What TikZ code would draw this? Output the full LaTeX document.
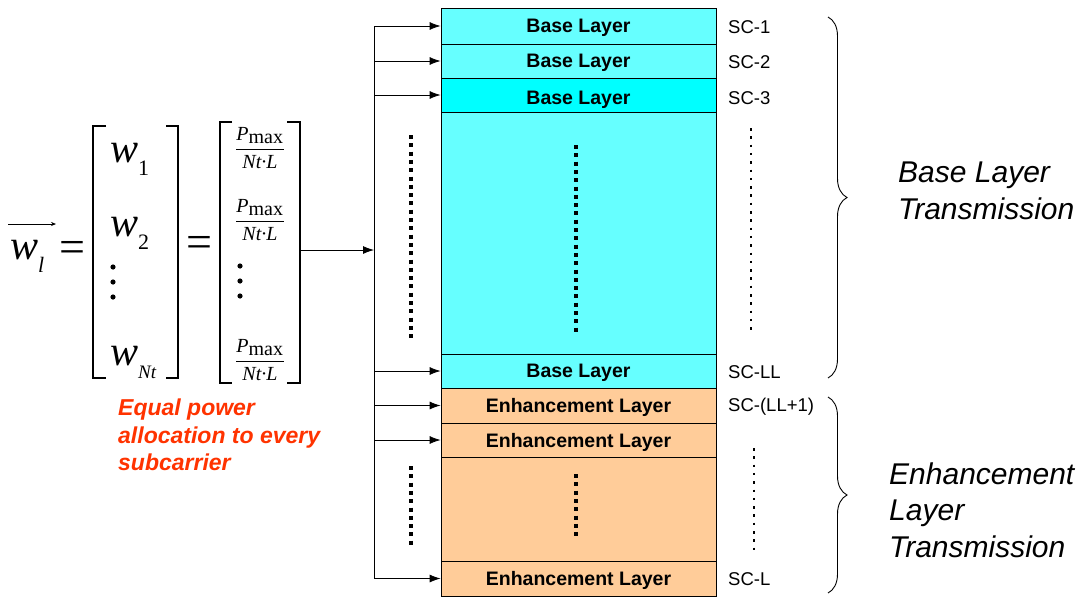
\documentclass[tikz,border=0pt]{standalone}
\usepackage{fontspec}
\usepackage{amsmath}
\setmainfont{Liberation Sans}
\newfontfamily\timesfont{Liberation Serif}
\usetikzlibrary{arrows.meta,decorations.pathreplacing}

\definecolor{basecyan}{RGB}{102,255,255}
\definecolor{brightcyan}{RGB}{0,255,255}
\definecolor{enhpeach}{RGB}{255,204,153}
\definecolor{notered}{RGB}{255,51,0}

% one power entry P_max / (Nt.L)
\newcommand{\powfrac}{$\dfrac{\mbox{\itshape P}_{\mbox{max}}}{\mbox{\itshape Nt\textperiodcentered L}}$}
% a weight w with its index set low
\newcommand{\wsub}[2][]{w\raisebox{-13pt}{\fontsize{22}{22}\selectfont#1#2}}

\begin{document}
\begin{tikzpicture}[x=1pt,y=-1pt]
    % Styles
    \tikzset{
      layer/.style={draw,line width=0.8pt,minimum width=275pt,inner sep=0pt,text depth=0pt,
        font=\fontsize{19.5}{20}\selectfont\bfseries},
      sclabel/.style={anchor=west,inner sep=0pt,font=\fontsize{18.5}{20}\selectfont},
      feed/.style={-{Latex[length=11pt,width=8pt]},line width=0.8pt},
      wire/.style={line width=0.8pt},
      bigdots/.style={line width=4pt,dash pattern=on 4pt off 4.3pt},
      smalldots/.style={line width=2.5pt,dash pattern=on 2.5pt off 5.8pt},
      bracket/.style={line width=1.6pt},
      curly/.style={decorate,decoration={brace,amplitude=19pt},line width=0.9pt},
      weight/.style={anchor=west,inner sep=0pt,font=\timesfont\fontsize{42}{42}\selectfont\itshape},
      eqsign/.style={inner sep=0pt,font=\timesfont\fontsize{46}{46}\selectfont},
      power/.style={inner sep=0pt,font=\timesfont\fontsize{20}{24}\selectfont},
      grouplabel/.style={anchor=west,align=left,inner sep=0pt,
        font=\fontsize{30}{36.5}\selectfont\itshape},
      note/.style={anchor=north west,align=left,inner sep=0pt,text=notered,
        font=\fontsize{23}{27.5}\selectfont\bfseries\itshape}
    }
    \useasboundingbox (0,0) rectangle (1089,597);

    % --- Weight vector w_l ---
    \node[weight] (wvec) at (10,256) {\wsub{l}};
    \draw[-{Stealth[length=5pt,width=4pt]},line width=0.7pt] (8,224) -- (56,224);
    \node[eqsign] (eq1) at (72,252) {=};

    % first column vector
    \draw[bracket] (106,126) -| (93,378) -- (106,378);
    \draw[bracket] (166,126) -| (178,378) -- (166,378);
    \node[weight] (w1) at (110,159) {\wsub[\upshape]{1}};
    \node[weight] (w2) at (110,233) {\wsub[\upshape]{2}};
    \node[weight] (wn) at (110,362) {\wsub[\fontsize{19}{19}\selectfont]{Nt}};
    \foreach \y in {267,282,297} \fill (113,\y) circle (2.6pt);

    \node[eqsign] (eq2) at (199,247) {=};

    % second column vector: equal power per entry
    \draw[bracket] (232,122) -| (220,383) -- (232,383);
    \draw[bracket] (287,122) -| (300,383) -- (287,383);
    \node[power] (p1) at (260,148) {\powfrac};
    \node[power] (p2) at (260,220) {\powfrac};
    \node[power] (pn) at (260,360) {\powfrac};
    \foreach \y in {266,281,296} \fill (240,\y) circle (2.6pt);

    \node[note] (alloc) at (118,399) {Equal power\\allocation to every\\subcarrier};

    % --- Subcarrier stack ---
    \node[layer,fill=basecyan,minimum height=36pt] (sc1) at (578.5,26) {Base Layer};
    \node[layer,fill=basecyan,minimum height=34pt] (sc2) at (578.5,61) {Base Layer};
    \node[layer,fill=brightcyan,minimum height=34pt] (sc3) at (578.5,95) {\raisebox{-5pt}{Base Layer}};
    \node[layer,fill=basecyan,minimum height=242pt] (basegap) at (578.5,233) {};
    \node[layer,fill=basecyan,minimum height=34pt] (scLL) at (578.5,371) {Base Layer};
    \node[layer,fill=enhpeach,minimum height=35pt] (scE1) at (578.5,405.5) {Enhancement Layer};
    \node[layer,fill=enhpeach,minimum height=34pt] (scE2) at (578.5,440) {Enhancement Layer};
    \node[layer,fill=enhpeach,minimum height=104pt] (enhgap) at (578.5,509) {};
    \node[layer,fill=enhpeach,minimum height=35pt] (scL) at (578.5,578.5) {Enhancement Layer};

    % subcarrier indices
    \node[sclabel] (lab1) at (728,27) {SC-1};
    \node[sclabel] (lab2) at (728,62) {SC-2};
    \node[sclabel] (lab3) at (728,98) {SC-3};
    \node[sclabel] (labLL) at (728,372) {SC-LL};
    \node[sclabel] (labE1) at (728,407) {SC-(LL+1)};
    \node[sclabel] (labL) at (728,579) {SC-L};

    % dotted continuations
    \draw[bigdots] (411,135) -- (411,342);
    \draw[bigdots] (576,145) -- (576,332);
    \draw[smalldots] (751,128) -- (751,332);
    \draw[bigdots] (411,466) -- (411,545);
    \draw[bigdots] (576,474) -- (576,537);
    \draw[smalldots] (754,448) -- (754,552);

    % --- Feed lines ---
    \coordinate (bus) at (374,0);
    \coordinate (matout) at (300,250);
    \draw[wire] (bus |- sc1.west) -- (bus |- scL.west);
    \draw[feed] (matout) -- (bus |- matout);
    \foreach \r in {sc1,sc2,sc3,scLL,scE1,scE2,scL}
      \draw[feed] (bus |- \r.west) -- (\r.west);

    % --- Layer groups ---
    \draw[curly] (828,17) -- (828,378);
    \draw[curly] (828,397) -- (828,593);
    \node[grouplabel] (basegrp) at (898,191) {Base Layer\\Transmission};
    \node[grouplabel] (enhgrp) at (889,510) {Enhancement\\Layer\\Transmission};
\end{tikzpicture}
\end{document}
